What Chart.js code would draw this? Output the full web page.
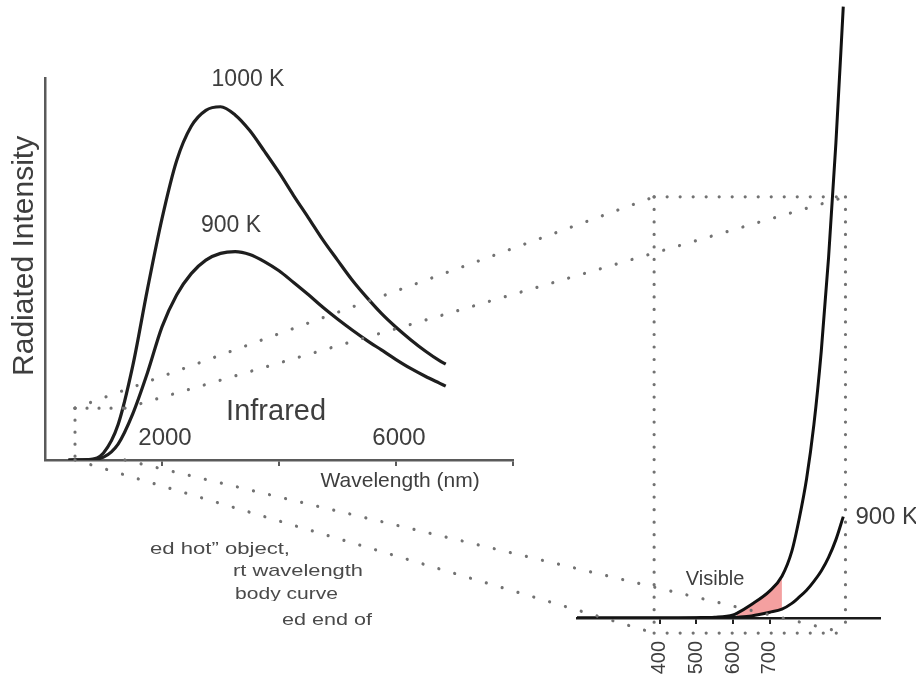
<!DOCTYPE html>
<html><head><meta charset="utf-8">
<script src="https://cdn.jsdelivr.net/npm/chart.js@4.4.0/dist/chart.umd.min.js"></script>
<style>
html,body{margin:0;padding:0;background:#fff;width:916px;height:676px;overflow:hidden;}
#left{position:absolute;left:0;top:0;}
#right{position:absolute;left:560px;top:0;}
#overlay{position:absolute;left:0;top:0;pointer-events:none;}
</style></head><body>
<canvas id="left" width="540" height="520"></canvas>
<canvas id="right" width="356" height="676"></canvas>
<canvas id="overlay" width="916" height="676"></canvas>
<script>
// ---------- DATA ----------
// Left panel: full black-body curves (wavelength in nm, relative intensity)
const leftWavelength1000K = [400,750,1000,1250,1500,1750,2000,2250,2500,2750,3000,3250,3500,3750,4000,4250,4500,4750,5000,5250,5500,5750,6000,6250,6500,6750,6850];
const leftIntensity1000K  = [0,0.001,0.02,0.10,0.265,0.48,0.68,0.843,0.94,0.985,0.995,0.972,0.928,0.87,0.81,0.745,0.683,0.62,0.563,0.507,0.458,0.413,0.374,0.339,0.307,0.279,0.27];
const leftWavelength900K  = [400,750,1000,1250,1500,1750,2000,2250,2500,2750,3000,3250,3500,3750,4000,4250,4500,4750,5000,5250,5500,5750,6000,6250,6500,6750,6850];
const leftIntensity900K   = [0,0.001,0.008,0.045,0.13,0.245,0.375,0.465,0.525,0.563,0.582,0.587,0.579,0.559,0.533,0.50,0.466,0.43,0.397,0.366,0.337,0.31,0.283,0.258,0.236,0.216,0.208];
const leftTickValues = [2000,4000,6000,8000];
const leftTickLabels = ['2000','','6000',''];

// Right panel: zoom on the visible end (wavelength in nm, intensity in magnified units)
const rightWavelength     = [175,400,500,550,600,610,650,700,733,760,780,800,820,840,860,880,900];
const rightIntensity1000K = [0,0,0.003,0.008,0.03,0.045,0.13,0.26,0.40,0.64,0.95,1.33,1.85,2.55,3.45,4.55,5.85];
const rightIntensity900K  = [0,0,0,0.002,0.006,0.008,0.02,0.055,0.085,0.14,0.20,0.265,0.35,0.45,0.58,0.75,0.97];
const rightTickValues = [400,500,600,700];
const rightTickLabels = ['400','500','600','700'];
const visibleBand = [610, 733];

// ---------- helpers ----------
const FONT = '"Liberation Sans", Arial, Helvetica, sans-serif';
const pts = (xs, ys) => xs.map((x, i) => ({x, y: ys[i]}));
const inBand = (xs, ys) => xs.map((x, i) => ({x, y: ys[i]})).filter(p => p.x >= visibleBand[0] && p.x <= visibleBand[1]);

const leftNotes = [
  {text:'1000 K', x:3470, y:1.07, size:23},
  {text:'900 K', x:3180, y:0.66, size:23},
  {text:'Infrared', x:3950, y:0.135, size:29},
  {text:'Wavelength (nm)', x:6070, y:-0.06, size:21}
];
const rightNotes = [
  {text:'900 K', x:933, y:0.966, size:24, align:'left'},
  {text:'Visible', x:551, y:0.37, size:20, align:'center'}
];

const leftText = {
  id:'leftText',
  afterDraw(chart){
    const {ctx, scales:{x, y}} = chart;
    ctx.save();
    ctx.fillStyle = '#3e3e3e';
    ctx.textAlign = 'center'; ctx.textBaseline = 'middle';
    leftNotes.forEach(n => {
      ctx.font = n.size + 'px ' + FONT;
      ctx.fillText(n.text, x.getPixelForValue(n.x), y.getPixelForValue(n.y));
    });
    // tick labels sit above the axis line, inside the plot
    ctx.font = '24px ' + FONT;
    leftTickValues.forEach((v, i) => {
      if (leftTickLabels[i]) ctx.fillText(leftTickLabels[i], x.getPixelForValue(v) + 3, x.top - 22);
    });
    ctx.translate(x.left - 20, y.getPixelForValue(0.575));
    ctx.rotate(-Math.PI/2);
    ctx.font = '30px ' + FONT;
    ctx.fillText('Radiated Intensity', 0, 0);
    ctx.restore();
  }
};

const rightText = {
  id:'rightText',
  afterDraw(chart){
    const {ctx, scales:{x, y}} = chart;
    ctx.save();
    ctx.fillStyle = '#3e3e3e';
    ctx.textBaseline = 'middle';
    rightNotes.forEach(n => {
      ctx.font = n.size + 'px ' + FONT;
      ctx.textAlign = n.align;
      ctx.fillText(n.text, x.getPixelForValue(n.x), y.getPixelForValue(n.y));
    });
    ctx.restore();
    drawOverlay(chart);
  }
};

let leftChart = null;
const leftBox  = {x0:513, x1:1368, y0:0, y1:0.146};
const rightBox = {x0:385, x1:906, y0:-0.144, y1:4.03};

function dotted(ctx, x1, y1, x2, y2, gap){
  ctx.save();
  ctx.strokeStyle = '#727272';
  ctx.lineWidth = 3.2;
  ctx.lineCap = 'round';
  ctx.setLineDash([0.01, gap]);
  ctx.beginPath(); ctx.moveTo(x1, y1); ctx.lineTo(x2, y2); ctx.stroke();
  ctx.restore();
}

function drawOverlay(rc){
  if (!leftChart) return;
  const ctx = document.getElementById('overlay').getContext('2d');
  ctx.clearRect(0, 0, 916, 676);
  const lx = v => leftChart.scales.x.getPixelForValue(v);
  const ly = v => leftChart.scales.y.getPixelForValue(v);
  const rOff = 560;
  const rx = v => rc.scales.x.getPixelForValue(v) + rOff;
  const ry = v => rc.scales.y.getPixelForValue(v);
  const L = {l:lx(leftBox.x0), r:lx(leftBox.x1), t:ly(leftBox.y1), b:ly(leftBox.y0)};
  const R = {l:rx(rightBox.x0), r:rx(rightBox.x1), t:ry(rightBox.y1), b:ry(rightBox.y0)};
  // small box on the left panel
  dotted(ctx, L.l, L.t, L.l, L.b, 12);
  dotted(ctx, L.l, L.t, L.r, L.t, 12);
  // large box on the right panel
  dotted(ctx, R.l, R.t, R.r, R.t, 13);
  dotted(ctx, R.l, R.t, R.l, R.b, 12.5);
  dotted(ctx, R.r, R.t, R.r, R.b, 12.5);
  dotted(ctx, R.l, R.b, R.r, R.b, 13);
  // connectors
  dotted(ctx, L.l, L.t, R.l, R.t, 16.5);
  dotted(ctx, L.r, L.t, R.r, R.t, 16.5);
  dotted(ctx, L.l, L.b, R.l, R.b, 16.5);
  dotted(ctx, L.r, L.b, R.r, R.b, 16.5);
  // partially visible caption text
  const lines = [
    {t:'ed hot\u201d object,', x:150, y:549, w:140},
    {t:'rt wavelength', x:233, y:571, w:130},
    {t:'body curve', x:235, y:594, w:103, clip:601},
    {t:'ed end of', x:282, y:620, w:90}
  ];
  ctx.save();
  ctx.fillStyle = '#4a4a4a';
  ctx.font = '17px ' + FONT;
  ctx.textBaseline = 'middle';
  lines.forEach(l => {
    ctx.save();
    if (l.clip) { ctx.beginPath(); ctx.rect(0, 0, 916, l.clip); ctx.clip(); }
    const m = ctx.measureText(l.t).width;
    ctx.translate(l.x, l.y);
    ctx.scale(l.w / m, 1);
    ctx.fillText(l.t, 0, 0);
    ctx.restore();
  });
  ctx.restore();
}

// ---------- LEFT CHART ----------
leftChart = new Chart(document.getElementById('left'), {
  type:'line',
  data:{datasets:[
    {label:'1000 K', data:pts(leftWavelength1000K, leftIntensity1000K), borderColor:'#1e1e1e', borderWidth:3.2, pointRadius:0, cubicInterpolationMode:'monotone', fill:false},
    {label:'900 K', data:pts(leftWavelength900K, leftIntensity900K), borderColor:'#1e1e1e', borderWidth:3.2, pointRadius:0, cubicInterpolationMode:'monotone', fill:false}
  ]},
  options:{
    responsive:false, animation:false,
    layout:{padding:{left:0, top:78, right:27, bottom:0}},
    plugins:{legend:{display:false}, tooltip:{enabled:false}},
    scales:{
      x:{type:'linear', min:0, max:8000,
        afterBuildTicks:s => { s.ticks = leftTickValues.map(v => ({value:v})); },
        ticks:{display:false},
        grid:{drawOnChartArea:false, drawTicks:true, tickLength:6, color:'#5a5a5a', lineWidth:2},
        border:{display:true, color:'#5a5a5a', width:2.5},
        afterFit:s => { s.height = 60; }
      },
      y:{type:'linear', min:0, max:1.076,
        ticks:{display:false}, grid:{display:false},
        border:{display:true, color:'#5a5a5a', width:2.5},
        afterFit:s => { s.width = 45; }
      }
    }
  },
  plugins:[leftText]
});

// ---------- RIGHT CHART ----------
new Chart(document.getElementById('right'), {
  type:'line',
  data:{datasets:[
    {label:'1000 K', data:pts(rightWavelength, rightIntensity1000K), borderColor:'#111', borderWidth:3, pointRadius:0, cubicInterpolationMode:'monotone', fill:false},
    {label:'900 K', data:pts(rightWavelength, rightIntensity900K), borderColor:'#111', borderWidth:3, pointRadius:0, cubicInterpolationMode:'monotone', fill:false},
    {label:'visible top', data:inBand(rightWavelength, rightIntensity1000K), borderWidth:0, pointRadius:0, cubicInterpolationMode:'monotone', fill:'+1', backgroundColor:'#f4a0a0'},
    {label:'visible bottom', data:inBand(rightWavelength, rightIntensity900K), borderWidth:0, pointRadius:0, cubicInterpolationMode:'monotone', fill:false}
  ]},
  options:{
    responsive:false, animation:false,
    layout:{padding:{left:17, top:0, right:36, bottom:0}},
    plugins:{legend:{display:false}, tooltip:{enabled:false}},
    scales:{
      x:{type:'linear', min:175, max:1000,
        afterBuildTicks:s => { s.ticks = rightTickValues.map(v => ({value:v})); },
        ticks:{callback:v => { const i = rightTickValues.indexOf(v); return i < 0 ? '' : rightTickLabels[i]; },
          minRotation:90, maxRotation:90, autoSkip:false, padding:17, color:'#3e3e3e', font:{family:FONT, size:20}},
        grid:{drawOnChartArea:false, drawTicks:true, tickLength:6, color:'#222', lineWidth:2},
        border:{display:true, color:'#1a1a1a', width:2.5},
        afterFit:s => { s.height = 58; }
      },
      y:{type:'linear', display:false, min:0, max:5.914}
    }
  },
  plugins:[rightText]
});
</script>
</body></html>
